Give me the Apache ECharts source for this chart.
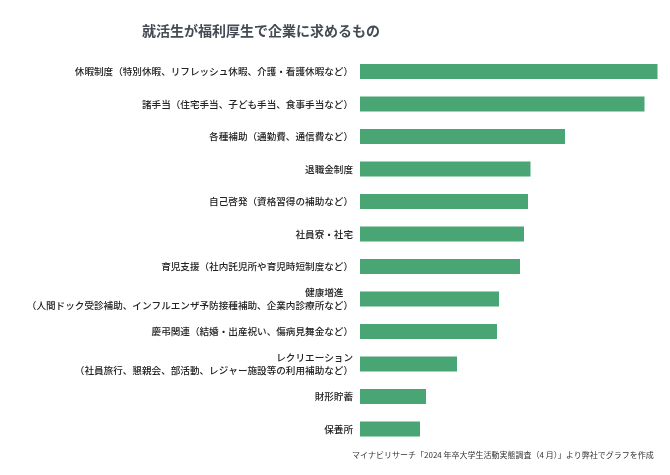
<!DOCTYPE html>
<html>
<head>
<meta charset="utf-8">
<script src="https://cdn.jsdelivr.net/npm/echarts@6/dist/echarts.min.js"></script>
<style>
html,body{margin:0;padding:0;background:#fff;}
#c{width:670px;height:475px;}
</style>
</head>
<body>
<div id="c"></div>
<script>
const categories = [
  "休暇制度（特別休暇、リフレッシュ休暇、介護・看護休暇など）",
  "諸手当（住宅手当、子ども手当、食事手当など）",
  "各種補助（通勤費、通信費など）",
  "退職金制度",
  "自己啓発（資格習得の補助など）",
  "社員寮・社宅",
  "育児支援（社内託児所や育児時短制度など）",
  "健康増進　\n（人間ドック受診補助、インフルエンザ予防接種補助、企業内診療所など）",
  "慶弔関連（結婚・出産祝い、傷病見舞金など）",
  "レクリエーション\n（社員旅行、懇親会、部活動、レジャー施設等の利用補助など）",
  "財形貯蓄",
  "保養所"
];
const values = [59.5, 56.9, 41.0, 34.1, 33.6, 32.8, 32.0, 27.8, 27.4, 19.4, 13.2, 12.0];
const titleText = "就活生が福利厚生で企業に求めるもの";
const sourceText = "マイナビリサーチ「2024 年卒大学生活動実態調査（4 月）」より弊社でグラフを作成";

const FONT = '"Noto Sans CJK JP", "Noto Sans", sans-serif';
const chart = echarts.init(document.getElementById('c'), null, {renderer: 'canvas'});
chart.setOption({
  backgroundColor: '#ffffff',
  animation: false,
  textStyle: {fontFamily: FONT},
  title: [{
    text: titleText,
    left: 137,
    top: 19,
    textStyle: {fontFamily: FONT, fontSize: 14, fontWeight: 'bold', color: '#454b54'}
  }],
  graphic: [{
    type: 'text',
    left: 352,
    top: 451,
    style: {text: sourceText, font: '8px ' + FONT, fill: '#333333'}
  }],
  grid: {left: 360, right: 10, top: 55.25, bottom: 29.75, containLabel: false},
  xAxis: {
    type: 'value', min: 0, max: 60, show: false,
    splitLine: {show: false}
  },
  yAxis: {
    type: 'category',
    data: categories,
    inverse: true,
    axisLine: {show: false},
    axisTick: {show: false},
    axisLabel: {
      fontFamily: FONT, fontSize: 9.6, fontWeight: 500, color: '#222222', margin: 7,
      lineHeight: 13, align: 'right'
    }
  },
  series: [{
    type: 'bar',
    data: values,
    barWidth: 15,
    itemStyle: {color: '#4aa574'}
  }]
});
</script>
</body>
</html>
